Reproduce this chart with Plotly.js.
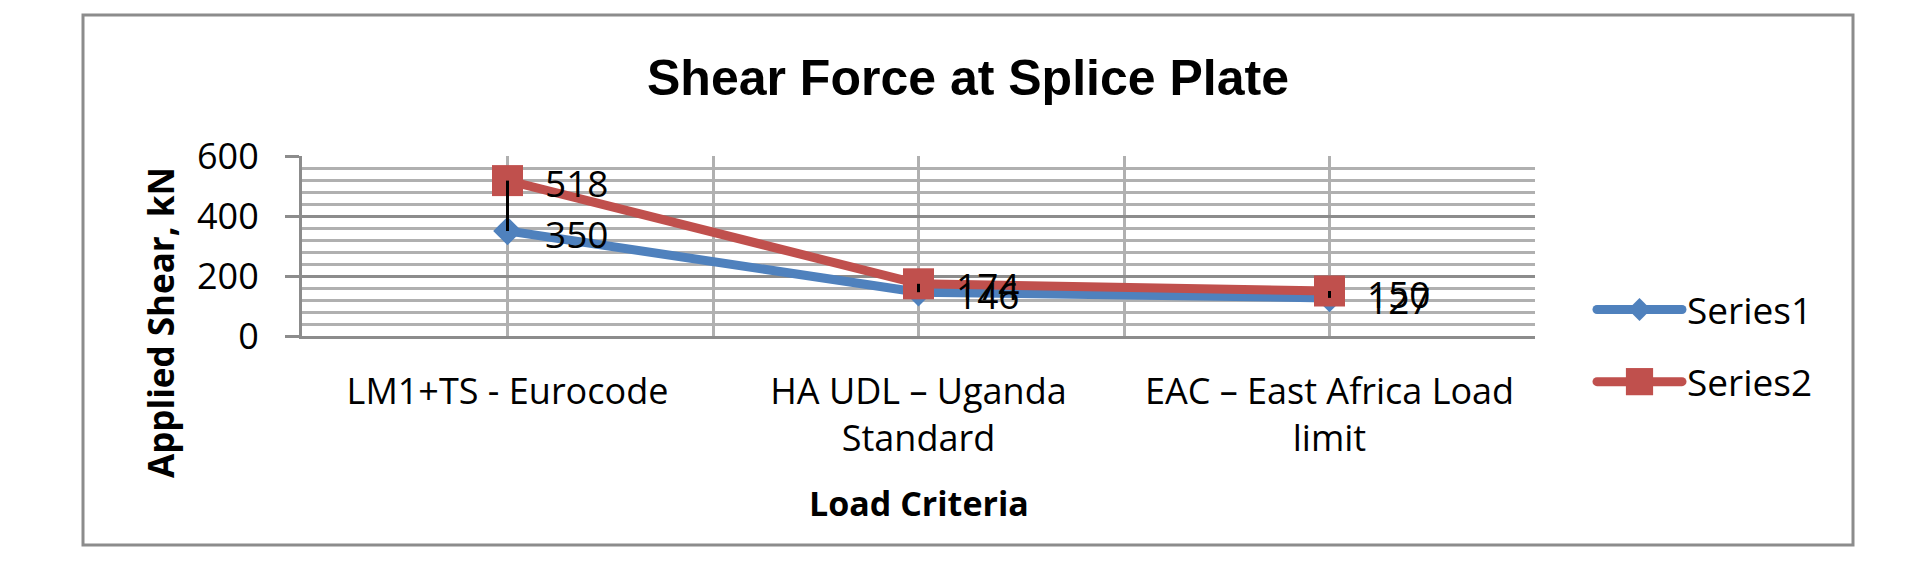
<!DOCTYPE html>
<html>
<head>
<meta charset="utf-8">
<script src="https://cdn.plot.ly/plotly-3.0.1.min.js"></script>
<style>
  html, body { margin: 0; padding: 0; background: #ffffff; }
  #chart { width: 1909px; height: 583px; }
</style>
</head>
<body>
<div id="chart"></div>
<script>
// Load cases on the category axis
const categories = ['LM1+TS - Eurocode', 'HA UDL – Uganda Standard', 'EAC – East Africa Load limit'];
const tickLabels = ['LM1+TS - Eurocode', 'HA UDL – Uganda<br>Standard', 'EAC – East Africa Load<br>limit'];

// Applied shear (kN) per load case
const seriesNames = ['Series1', 'Series2'];
const series1 = [350, 146, 127];
const series2 = [518, 174, 150];

const BLUE = '#4F81BD';
const RED = '#C0504D';
const BODY_FONT = 'Open Sans, sans-serif';
const idx = categories.map((_, i) => i);

const traceS1 = {
  type: 'scatter', mode: 'lines+markers', name: seriesNames[0],
  x: idx, y: series1, legendgroup: 'a',
  line: { color: BLUE, width: 9 },
  marker: { symbol: 'diamond', size: 22, color: BLUE },
  hoverinfo: 'x+y'
};
const traceS2 = {
  type: 'scatter', mode: 'lines+markers', name: seriesNames[1],
  x: idx, y: series2, legendgroup: 'b',
  line: { color: RED, width: 9 },
  marker: { symbol: 'square', size: 31, color: RED },
  hoverinfo: 'x+y'
};
// High-low lines joining the two series at each category
const hiLow = {
  type: 'scatter', mode: 'lines', showlegend: false, hoverinfo: 'skip',
  x: idx.flatMap(i => [i, i, null]),
  y: idx.flatMap(i => [series1[i], series2[i], null]),
  line: { color: '#000000', width: 3 }
};

// Value labels to the right of each point
const labelFont = { family: BODY_FONT, size: 37, color: '#000000' };
const valueLabels = [];
[series1, series2].forEach(vals => {
  vals.forEach((v, i) => {
    valueLabels.push({
      x: i, y: v, xref: 'x', yref: 'y', text: String(v), showarrow: false,
      xanchor: 'left', yanchor: 'middle', xshift: 35, yshift: -2, font: labelFont
    });
  });
});

const GRID_MAJOR = '#8C8C8C';
const GRID_MINOR = '#B0B0B0';

const layout = {
  width: 1909, height: 583, autosize: false,
  margin: { l: 302, r: 374, t: 156, b: 247, pad: 0 },
  paper_bgcolor: '#ffffff', plot_bgcolor: '#ffffff',
  showlegend: true,
  title: {
    text: 'Shear Force at Splice Plate',
    font: { family: 'Liberation Sans, Arial, sans-serif', size: 50, weight: 'bold', color: '#000000' },
    x: 968 / 1909, xanchor: 'center', xref: 'container',
    y: 1 - 77 / 583, yanchor: 'middle', yref: 'container'
  },
  xaxis: {
    type: 'linear', range: [-0.5, categories.length - 0.5], fixedrange: true,
    tickmode: 'array', tickvals: idx, ticktext: tickLabels,
    ticks: '', ticklabelstandoff: 22,
    tickfont: { family: BODY_FONT, size: 36, color: '#000000' },
    showgrid: true, gridcolor: GRID_MINOR, gridwidth: 3,
    minor: {
      tickmode: 'array', tickvals: idx.map(i => i + 0.5),
      showgrid: true, gridcolor: GRID_MINOR, gridwidth: 3, ticks: ''
    },
    showline: true, linecolor: GRID_MAJOR, linewidth: 3,
    zeroline: false
  },
  yaxis: {
    range: [0, 600], fixedrange: true,
    tickmode: 'linear', tick0: 0, dtick: 200,
    ticks: 'outside', ticklen: 14, tickwidth: 3, tickcolor: GRID_MAJOR,
    ticklabelstandoff: 19,
    tickfont: { family: BODY_FONT, size: 36, color: '#000000' },
    showgrid: true, gridcolor: GRID_MAJOR, gridwidth: 3,
    minor: { dtick: 40, showgrid: true, gridcolor: GRID_MINOR, gridwidth: 3, ticks: '' },
    showline: true, linecolor: GRID_MAJOR, linewidth: 3,
    zeroline: false
  },
  legend: {
    x: (1592 - 302) / 1233, xanchor: 'left',
    y: (336 - 279) / 180, yanchor: 'top',
    itemwidth: 85, tracegroupgap: 21,
    font: { family: BODY_FONT, size: 37, color: '#000000' },
    bgcolor: 'rgba(0,0,0,0)', borderwidth: 0
  },
  annotations: valueLabels.concat([
    {
      text: 'Applied Shear, kN', textangle: -90, showarrow: false,
      xref: 'paper', yref: 'paper',
      x: (160 - 302) / 1233, y: (336 - 323) / 180,
      xanchor: 'center', yanchor: 'middle',
      font: { family: BODY_FONT, size: 35, weight: 'bold', color: '#000000' }
    },
    {
      text: 'Load Criteria', showarrow: false,
      xref: 'paper', yref: 'paper',
      x: 0.5, y: (336 - 503) / 180,
      xanchor: 'center', yanchor: 'middle',
      font: { family: BODY_FONT, size: 34, weight: 'bold', color: '#000000' }
    }
  ]),
  shapes: [{
    // chart area frame
    type: 'rect', xref: 'paper', yref: 'paper', layer: 'below',
    x0: (83 - 302) / 1233, x1: (1853 - 302) / 1233,
    y0: (336 - 545) / 180, y1: (336 - 15) / 180,
    line: { color: GRID_MAJOR, width: 3 }, fillcolor: 'rgba(0,0,0,0)'
  }]
};

// Legend glyphs: thick rounded lines and full-size markers
const legendMarkerScale = [1.1, 1.7];

Plotly.newPlot('chart', [traceS1, traceS2, hiLow], layout, { displayModeBar: false, staticPlot: true })
  .then(gd => {
    gd.querySelectorAll('.legend .traces').forEach((g, i) => {
      g.querySelectorAll('.legendlines path').forEach(p => {
        p.style.strokeWidth = '9px';
        p.style.strokeLinecap = 'round';
      });
      g.querySelectorAll('.legendpoints path').forEach(p => {
        const t = p.getAttribute('transform') || '';
        p.setAttribute('transform', t + ' scale(' + legendMarkerScale[i] + ')');
      });
    });
  });
</script>
</body>
</html>
